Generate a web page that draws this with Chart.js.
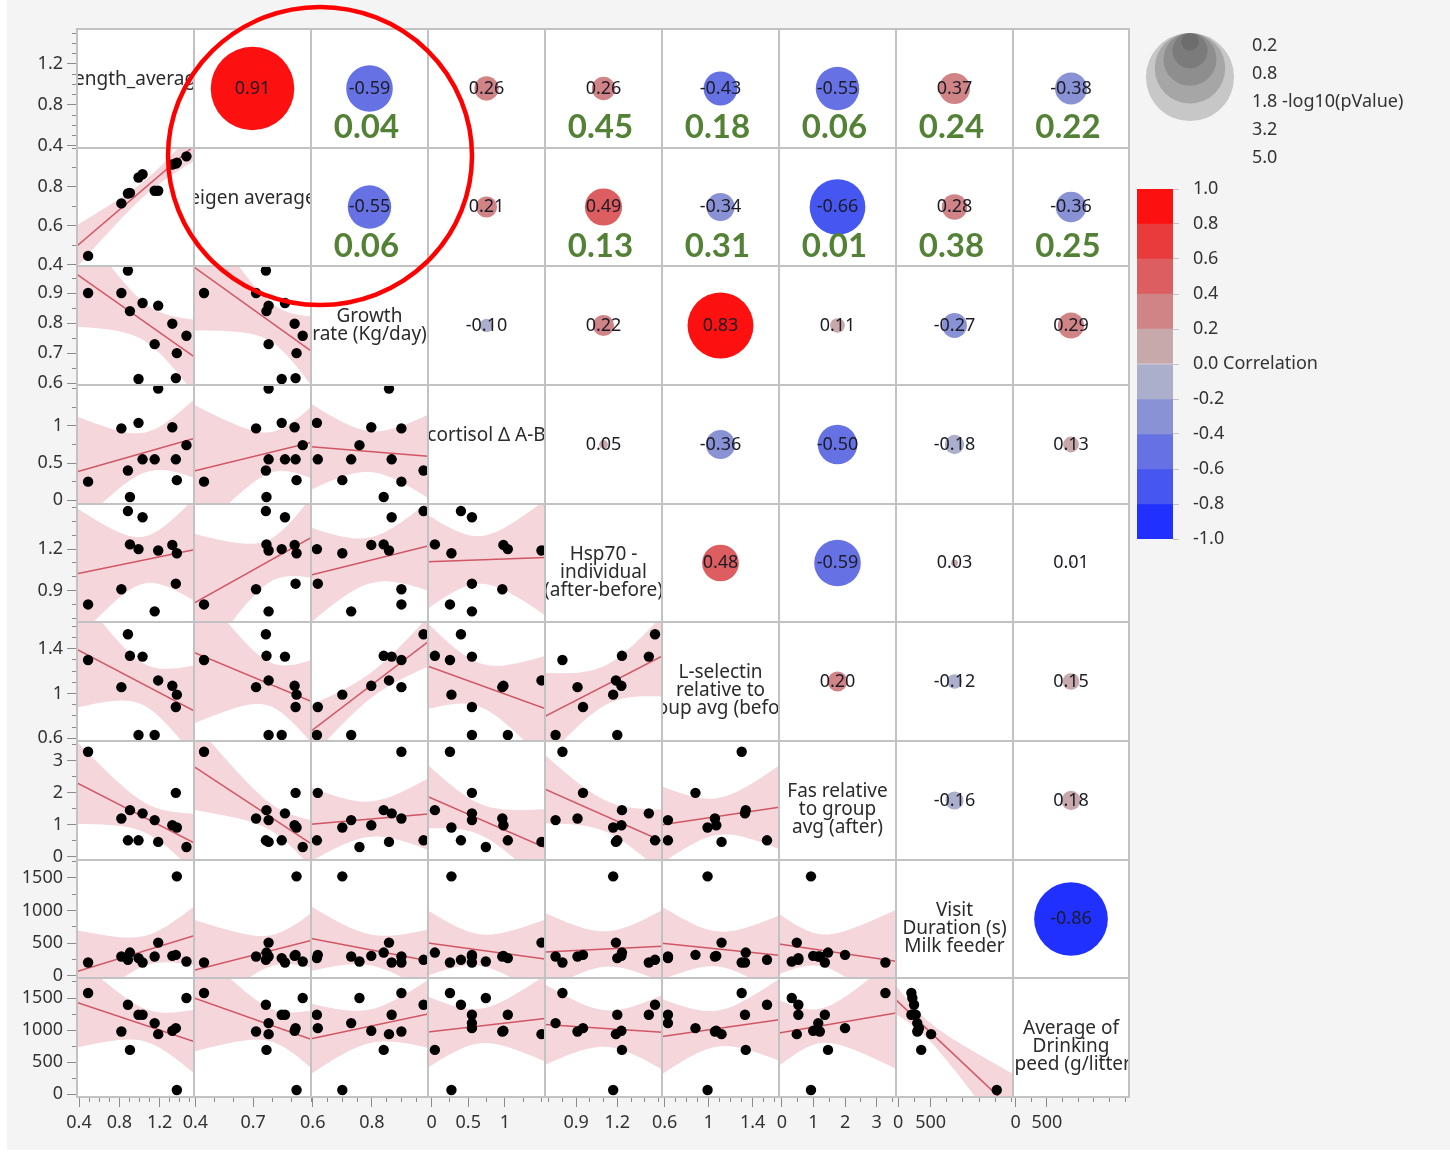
<!DOCTYPE html>
<html>
<head>
<meta charset="utf-8">
<script src="https://cdn.jsdelivr.net/npm/chart.js@4.4.1/dist/chart.umd.min.js"></script>
<style>
  html, body { margin: 0; padding: 0; background: #fff; }
  #page { position: relative; width: 1450px; height: 1153px; overflow: hidden; }
  #bg { position: absolute; left: 7px; top: 0; width: 1443px; height: 1150px; background: #f4f4f4; }
  #matrix { position: absolute; background: #fff; }
  canvas { position: absolute; display: block; }
  .gl { position: absolute; background: #c2c2c2; z-index: 4; }
</style>
</head>
<body>
<div id="page">
  <div id="bg"></div>
  <div id="matrix"></div>
  <svg width="1450" height="1153" style="position:absolute;left:0;top:0;z-index:20;pointer-events:none">
    <ellipse cx="320" cy="156" rx="152" ry="149" fill="none" stroke="#ff0000" stroke-width="4.5"/>
  </svg>
</div>
<script>
// one value per animal (same order in every variable), null = not measured
const lengthAvg  = [0.49, 0.82, 0.885, 0.905, 0.99, 1.03, 1.15, 1.185, 1.325, 1.36, 1.37, 1.465];
const eigenAvg   = [0.445, 0.715, 0.766, 0.769, 0.848, 0.865, 0.78, 0.78, 0.915, 0.92, 0.925, 0.957];
const growthRate = [0.90, 0.90, 0.975, 0.84, 0.614, 0.867, 0.73, 0.858, 0.798, 0.617, 0.70, 0.758];
const cortisol   = [0.25, 0.965, 0.40, 0.044, 1.04, 0.55, 0.55, 1.50, 0.98, 0.55, 0.27, 0.74];
const hsp70      = [0.80, 0.91, 1.475, 1.234, 1.20, 1.43, 0.75, 1.19, 1.23, 0.95, 1.17, null];
const lSelectin  = [1.30, 1.057, 1.53, 1.337, 0.63, 1.33, 0.63, 1.117, 1.069, 0.88, 0.99, null];
const fasRel     = [3.28, 1.20, 0.52, 1.46, 0.52, 1.36, 1.15, 0.47, 0.99, 2.0, 0.92, 0.31];
const visitDur   = [203, 294, 244, 355, 270, 203, 294, 508, 305, 320, 1524, 218];
const drinkSpeed = [1578, 978, 1395, 692, 1239, 1239, 1109, 937, 989, 1031, 67, 1500];

const series = [lengthAvg, eigenAvg, growthRate, cortisol, hsp70, lSelectin, fasRel, visitDur, drinkSpeed];

const varLabels = [
  ['Length_average'],
  ['eigen average'],
  ['Growth', 'rate (Kg/day)'],
  ['cortisol Δ A-B'],
  ['Hsp70 -', 'individual', '(after-before)'],
  ['L-selectin', 'relative to', 'group avg (before)'],
  ['Fas relative', 'to group', 'avg (after)'],
  ['Visit', 'Duration (s)', 'Milk feeder'],
  ['Average of', 'Drinking', 'speed (g/litter)']
];

// axis ranges and ticks
const axisMin = [0.38, 0.393, 0.594, -0.05, 0.673, 0.576, -0.094, -35, -42];
const axisMax = [1.54, 1.0, 0.99, 1.548, 1.526, 1.639, 3.616, 1775, 1812];
const minorStep = [0.1, 0.1, 0.05, 0.25, 0.1, 0.1, 0.5, 250, 250];
const yTickLabels = [[0.4, 0.8, 1.2], [0.4, 0.6, 0.8], [0.6, 0.7, 0.8, 0.9], [0, 0.5, 1], [0.9, 1.2],
  [0.6, 1, 1.4], [0, 1, 2, 3], [0, 500, 1000, 1500], [0, 500, 1000, 1500]];
const xTickLabels = [[0.4, 0.8, 1.2], [0.4, 0.7], [0.6, 0.8], [0, 0.5, 1], [0.9, 1.2],
  [0.6, 1, 1.4], [0, 1, 2, 3], [0, 500], [0, 500]];

// upper triangle: correlations, -log10(p) and the p-values written under rows 1-2
const corrUpper = [
  [0.91, -0.59, 0.26, 0.26, -0.43, -0.55, 0.37, -0.38],
  [-0.55, 0.21, 0.49, -0.34, -0.66, 0.28, -0.36],
  [-0.10, 0.22, 0.83, 0.11, -0.27, 0.29],
  [0.05, -0.36, -0.50, -0.18, 0.13],
  [0.48, -0.59, 0.03, 0.01],
  [0.20, -0.12, 0.15],
  [-0.16, 0.18],
  [-0.86]
];
const negLog10P = [
  [4.5, 1.40, 0.38, 0.35, 0.74, 1.22, 0.62, 0.66],
  [1.22, 0.29, 0.89, 0.51, 2.0, 0.42, 0.60],
  [0.12, 0.29, 2.8, 0.14, 0.40, 0.44],
  [0.05, 0.55, 1.01, 0.24, 0.16],
  [0.87, 1.40, 0.03, 0.01],
  [0.26, 0.14, 0.18],
  [0.21, 0.24],
  [3.5]
];
const pValueNotes = [
  [null, '0.04', null, '0.45', '0.18', '0.06', '0.24', '0.22'],
  ['0.06', null, '0.13', '0.31', '0.01', '0.38', '0.25']
];

const pLegendValues = [0.2, 0.8, 1.8, 3.2, 5.0];
const corrBinEdges = [-1, -0.8, -0.6, -0.4, -0.2, 0, 0.2, 0.4, 0.6, 0.8, 1];
const corrBinColors = ['#1f30ff', '#4556f1', '#6672e3', '#8a92d6', '#abafcb',
  '#c8a9ab', '#d08486', '#dc5e60', '#e93b3c', '#fc1010'];

const tCrit = { 9: 2.262, 10: 2.228 };   // t(0.975, df)
const bubbleScale = 19.7;                // radius = scale * sqrt(-log10 p)
const PAD = 48;                          // spare canvas round each cell (bubble overflow)

Chart.defaults.font.family = '"Noto Sans", sans-serif';
Chart.defaults.color = '#333';

const page = document.getElementById('page');
const X = [], Y = [];
for (let k = 0; k <= 9; k++) {
  X.push(Math.round(77.3 + k * 116.9));
  Y.push(Math.round(29 + k * 118.67));
}

const matrix = document.getElementById('matrix');
matrix.style.left = X[0] + 'px';
matrix.style.top = Y[0] + 'px';
matrix.style.width = (X[9] - X[0]) + 'px';
matrix.style.height = (Y[9] - Y[0]) + 'px';

function addCanvas(left, top, w, h, z) {
  const c = document.createElement('canvas');
  c.width = w; c.height = h;
  c.style.left = left + 'px'; c.style.top = top + 'px';
  c.style.width = w + 'px'; c.style.height = h + 'px';
  c.style.zIndex = z || 1;
  page.appendChild(c);
  return c;
}

function baseOptions(pad) {
  return {
    responsive: false, animation: false, events: [],
    layout: { padding: pad || 0 },
    plugins: { legend: { display: false }, tooltip: { enabled: false } }
  };
}

function hiddenScale(min, max) {
  return { type: 'linear', display: false, min: min, max: max };
}

function tickList(v) {
  const step = minorStep[v];
  const out = [];
  for (let k = Math.ceil(axisMin[v] / step - 1e-9); k * step <= axisMax[v] + 1e-9; k++) {
    out.push(+(k * step).toFixed(4));
  }
  return out;
}

function axisScale(v, majors, pos) {
  const horizontal = pos === 'bottom';
  const hit = val => majors.find(m => Math.abs(m - val) < 1e-6);
  return {
    type: 'linear', position: pos, min: axisMin[v], max: axisMax[v],
    afterBuildTicks: s => { s.ticks = tickList(v).map(t => ({ value: t })); },
    afterFit: s => {
      if (horizontal) s.height = 50; else s.width = X[0];
      s.paddingLeft = 0; s.paddingRight = 0; s.paddingTop = 0; s.paddingBottom = 0;
    },
    ticks: {
      autoSkip: false, maxRotation: 0, minRotation: 0,
      padding: horizontal ? 5 : 4,
      font: { size: 18 }, color: '#333',
      callback: val => { const m = hit(val); return m === undefined ? '' : String(m); }
    },
    grid: {
      drawOnChartArea: false, drawTicks: true, tickLength: 10, color: '#8a8a8a',
      tickBorderDash: c => (c.tick && hit(c.tick.value) !== undefined) ? [] : (horizontal ? [5, 40] : [0, 5, 40, 0])
    },
    border: { display: false }
  };
}

// least squares line with 95% confidence band of the mean
function regressionBand(pts, x0, x1) {
  const n = pts.length;
  const mx = pts.reduce((s, p) => s + p.x, 0) / n;
  const my = pts.reduce((s, p) => s + p.y, 0) / n;
  let sxx = 0, sxy = 0;
  pts.forEach(p => { sxx += (p.x - mx) * (p.x - mx); sxy += (p.x - mx) * (p.y - my); });
  const b = sxy / sxx, a = my - b * mx;
  let sse = 0;
  pts.forEach(p => { const e = p.y - (a + b * p.x); sse += e * e; });
  const s = Math.sqrt(sse / (n - 2));
  const t = tCrit[n - 2];
  const upper = [], lower = [];
  for (let k = 0; k <= 40; k++) {
    const x = x0 + (x1 - x0) * k / 40;
    const h = t * s * Math.sqrt(1 / n + (x - mx) * (x - mx) / sxx);
    upper.push({ x: x, y: a + b * x + h });
    lower.push({ x: x, y: a + b * x - h });
  }
  return { line: [{ x: x0, y: a + b * x0 }, { x: x1, y: a + b * x1 }], upper: upper, lower: lower };
}

function corrColor(r) {
  let k = Math.floor((r + 1) / 0.2 + 1e-9);
  return corrBinColors[Math.max(0, Math.min(9, k))];
}

function drawScatterCell(canvas, i, j) {
  const xs = series[j], ys = series[i];
  const pts = [];
  xs.forEach((xv, k) => { if (xv != null && ys[k] != null) pts.push({ x: xv, y: ys[k] }); });
  const fit = regressionBand(pts, axisMin[j], axisMax[j]);
  const opts = baseOptions(PAD);
  opts.scales = { x: hiddenScale(axisMin[j], axisMax[j]), y: hiddenScale(axisMin[i], axisMax[i]) };
  new Chart(canvas, {
    type: 'scatter',
    data: {
      datasets: [
        { type: 'line', data: fit.upper, order: 2, borderWidth: 0, borderColor: 'rgba(0,0,0,0)',
          pointRadius: 0, fill: '+1', backgroundColor: 'rgba(234,176,186,0.52)' },
        { type: 'line', data: fit.lower, order: 2, borderWidth: 0, borderColor: 'rgba(0,0,0,0)',
          pointRadius: 0, fill: false },
        { type: 'line', data: fit.line, order: 1, borderWidth: 1.5, borderColor: 'rgba(205,72,88,0.9)',
          pointRadius: 0, fill: false },
        { data: pts, order: 0, pointRadius: 5.2, backgroundColor: '#000', borderWidth: 0 }
      ]
    },
    options: opts
  });
}

function drawLabelCell(canvas, i) {
  const opts = baseOptions(PAD);
  opts.scales = { x: hiddenScale(0, 1), y: hiddenScale(0, 1) };
  new Chart(canvas, {
    type: 'scatter',
    data: { datasets: [] },
    options: opts,
    plugins: [{
      id: 'diagLabel',
      afterDraw(chart) {
        const c = chart.ctx, a = chart.chartArea;
        const cx = (a.left + a.right) / 2, cy = (a.top + a.bottom) / 2;
        c.save();
        c.beginPath(); c.rect(a.left, a.top, a.right - a.left, a.bottom - a.top); c.clip();
        c.font = '19px "Noto Sans"'; c.fillStyle = '#2b2b2b';
        c.textAlign = 'center'; c.textBaseline = 'middle';
        varLabels[i].forEach((t, k) => c.fillText(t, cx, cy - 8.5 + k * 18));
        c.restore();
      }
    }]
  });
}

function drawCorrCell(canvas, i, j) {
  const r = corrUpper[i][j - i - 1];
  const lp = negLog10P[i][j - i - 1];
  const note = i < pValueNotes.length ? pValueNotes[i][j - i - 1] : null;
  const opts = baseOptions(PAD);
  opts.scales = { x: hiddenScale(-1, 1), y: hiddenScale(-1, 1) };
  new Chart(canvas, {
    type: 'bubble',
    data: { datasets: [{ data: [{ x: 0, y: 0, r: bubbleScale * Math.sqrt(lp) }],
      backgroundColor: corrColor(r), borderWidth: 0, clip: false }] },
    options: opts,
    plugins: [{
      id: 'corrText',
      afterDatasetsDraw(chart) {
        const c = chart.ctx, a = chart.chartArea;
        const cx = (a.left + a.right) / 2, cy = (a.top + a.bottom) / 2;
        c.save();
        c.font = '18px "Noto Sans"'; c.fillStyle = '#1c1c26';
        c.textAlign = 'center'; c.textBaseline = 'middle';
        c.fillText(r.toFixed(2), cx, cy);
        if (note) {
          c.font = 'bold 33px Lato'; c.fillStyle = '#538135';
          c.fillText(note, cx - 3, a.top + 98);
        }
        c.restore();
      }
    }]
  });
}

// matrix cells
for (let i = 0; i < 9; i++) {
  for (let j = 0; j < 9; j++) {
    const cv = addCanvas(X[j] - PAD, Y[i] - PAD, X[j + 1] - X[j] + 2 * PAD, Y[i + 1] - Y[i] + 2 * PAD, 1);
    if (i === j) drawLabelCell(cv, i);
    else if (i > j) drawScatterCell(cv, i, j);
    else drawCorrCell(cv, i, j);
  }
}

// left axes, one per row
for (let i = 0; i < 9; i++) {
  const cv = addCanvas(0, Y[i] - 12, X[0] + 10, Y[i + 1] - Y[i] + 24, 3);
  const opts = baseOptions({ top: 12, bottom: 12, left: 0, right: 0 });
  opts.scales = { x: hiddenScale(0, 1), y: axisScale(i, yTickLabels[i], 'left') };
  new Chart(cv, { type: 'scatter', data: { datasets: [] }, options: opts });
}

// bottom axes, one per column
for (let j = 0; j < 9; j++) {
  const cv = addCanvas(X[j] - 15, Y[9] - 10, X[j + 1] - X[j] + 30, 60, 3);
  const opts = baseOptions({ top: 0, bottom: 0, left: 15, right: 15 });
  opts.scales = { x: axisScale(j, xTickLabels[j], 'bottom'), y: hiddenScale(0, 1) };
  new Chart(cv, { type: 'scatter', data: { datasets: [] }, options: opts });
}

// grid lines
for (let k = 0; k <= 9; k++) {
  const v = document.createElement('div');
  v.className = 'gl';
  v.style.left = (X[k] - 1) + 'px'; v.style.top = (Y[0] - 1) + 'px';
  v.style.width = '2px'; v.style.height = (Y[9] - Y[0] + 2) + 'px';
  page.appendChild(v);
  const h = document.createElement('div');
  h.className = 'gl';
  h.style.left = (X[0] - 1) + 'px'; h.style.top = (Y[k] - 1) + 'px';
  h.style.width = (X[9] - X[0] + 2) + 'px'; h.style.height = '2px';
  page.appendChild(h);
}

// size legend: -log10(pValue)
(function () {
  const areaW = 102, areaH = 140, axisW = 208;
  const cv = addCanvas(1140 - PAD, 32 - PAD, PAD + areaW + axisW, areaH + 2 * PAD, 5);
  const opts = baseOptions({ top: PAD, bottom: PAD, left: PAD, right: 0 });
  const sorted = pLegendValues.slice().sort((a, b) => b - a);
  opts.scales = {
    x: hiddenScale(0, areaW),
    yPx: { type: 'linear', display: false, min: 0, max: areaH, reverse: true },
    yLab: {
      type: 'category', position: 'right', offset: true,
      labels: pLegendValues.map((v, k) => v.toFixed(1) + (k === 2 ? ' -log10(pValue)' : '')),
      afterFit: s => { s.width = axisW; s.paddingTop = 0; s.paddingBottom = 0; },
      grid: { display: false }, border: { display: false },
      ticks: { autoSkip: false, padding: 2, font: { size: 18 }, color: '#333', crossAlign: 'near' }
    }
  };
  new Chart(cv, {
    type: 'bubble',
    data: { datasets: [
      { data: sorted.map(v => ({ x: 50, y: 1 + bubbleScale * Math.sqrt(v), r: bubbleScale * Math.sqrt(v) })),
        yAxisID: 'yPx', backgroundColor: 'rgba(70,70,70,0.26)', borderWidth: 0, clip: false },
      { data: [], yAxisID: 'yLab' }
    ] },
    options: opts
  });
})();

// colour legend: Correlation
(function () {
  const cv = addCanvas(1137, 180, 300, 370, 5);
  const opts = baseOptions({ top: 9, bottom: 11, left: 0, right: 0 });
  opts.scales = {
    x: { stacked: true, display: false },
    y: {
      stacked: true, position: 'right', min: -1, max: 1,
      afterBuildTicks: s => { s.ticks = corrBinEdges.map(v => ({ value: v })); },
      afterFit: s => { s.width = 264; s.paddingTop = 0; s.paddingBottom = 0; },
      grid: { drawOnChartArea: false, tickLength: 6, color: '#c4c4c4' },
      border: { display: false },
      ticks: {
        padding: 14, font: { size: 18 }, color: '#333',
        callback: v => Math.abs(v) < 1e-9 ? '0.0 Correlation' : v.toFixed(1)
      }
    }
  };
  const datasets = [];
  for (let k = 0; k < 5; k++) {
    datasets.push({ data: [corrBinEdges[6 + k] - corrBinEdges[5 + k]], backgroundColor: corrBinColors[5 + k],
      barPercentage: 1, categoryPercentage: 1, borderWidth: 0 });
    datasets.push({ data: [corrBinEdges[4 - k] - corrBinEdges[5 - k]], backgroundColor: corrBinColors[4 - k],
      barPercentage: 1, categoryPercentage: 1, borderWidth: 0 });
  }
  new Chart(cv, { type: 'bar', data: { labels: [''], datasets: datasets }, options: opts });
})();
</script>
</body>
</html>
